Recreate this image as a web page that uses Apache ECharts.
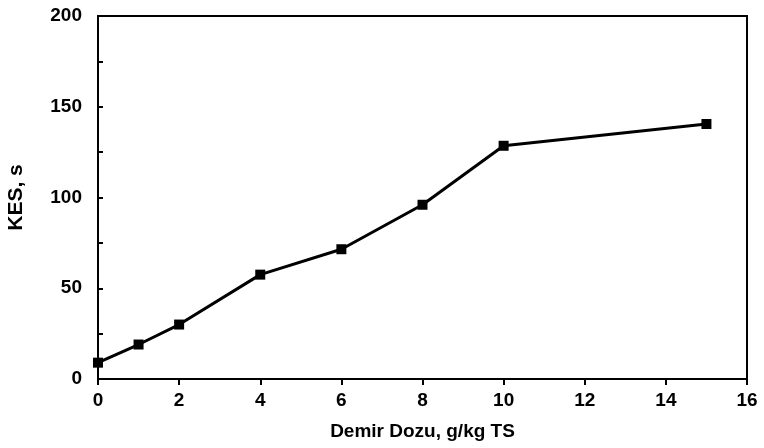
<!DOCTYPE html>
<html>
<head>
<meta charset="utf-8">
<script src="https://cdn.jsdelivr.net/npm/echarts@6/dist/echarts.min.js"></script>
<style>
  html, body { margin: 0; padding: 0; background: #fff; }
  #chart { width: 764px; height: 448px; }
</style>
</head>
<body>
<div id="chart"></div>
<script>
// Iron dose (g/kg TS) against CST (KES, s)
const doses = [0, 1, 2, 4, 6, 8, 10, 15];
const kesValues = [9, 19, 30, 57.5, 71.5, 96, 128.5, 140.5];
const xTitle = 'Demir Dozu, g/kg TS';
const yTitle = 'KES, s';
const yLabelStep = 50;

const font = 'Arial, "Liberation Sans", sans-serif';
const points = doses.map((d, i) => [d, kesValues[i]]);

const chart = echarts.init(document.getElementById('chart'), null, { renderer: 'canvas' });
chart.setOption({
  backgroundColor: '#ffffff',
  animation: false,
  grid: {
    left: 98, right: 17, top: 16, bottom: 69,
    outerBoundsMode: 'none',
    containLabel: false,
    show: true, borderColor: '#000', borderWidth: 2, backgroundColor: 'transparent'
  },
  xAxis: {
    type: 'value', min: 0, max: 16, interval: 2,
    name: xTitle, nameLocation: 'middle', nameGap: 43,
    nameTextStyle: { fontFamily: font, fontWeight: 'bold', fontSize: 19, color: '#000' },
    axisLine: { show: true, lineStyle: { color: '#000', width: 2 } },
    axisTick: { show: true, inside: false, length: 6, lineStyle: { color: '#000', width: 2 } },
    axisLabel: { fontFamily: font, fontWeight: 'bold', fontSize: 19, color: '#000', margin: 12 },
    splitLine: { show: false }
  },
  yAxis: {
    type: 'value', min: 0, max: 200, interval: 25,
    name: yTitle, nameLocation: 'middle', nameGap: 71, nameRotate: 90,
    nameTextStyle: { fontFamily: font, fontWeight: 'bold', fontSize: 21, color: '#000' },
    axisLine: { show: true, lineStyle: { color: '#000', width: 2 } },
    axisTick: { show: true, inside: true, length: 5, lineStyle: { color: '#000', width: 2 } },
    axisLabel: {
      fontFamily: font, fontWeight: 'bold', fontSize: 19, color: '#000', margin: 16,
      formatter: v => (v % yLabelStep === 0 ? String(v) : '')
    },
    splitLine: { show: false }
  },
  series: [{
    type: 'line',
    data: points,
    symbol: 'rect',
    symbolSize: 10,
    itemStyle: { color: '#000' },
    lineStyle: { color: '#000', width: 3 }
  }]
});
</script>
</body>
</html>
